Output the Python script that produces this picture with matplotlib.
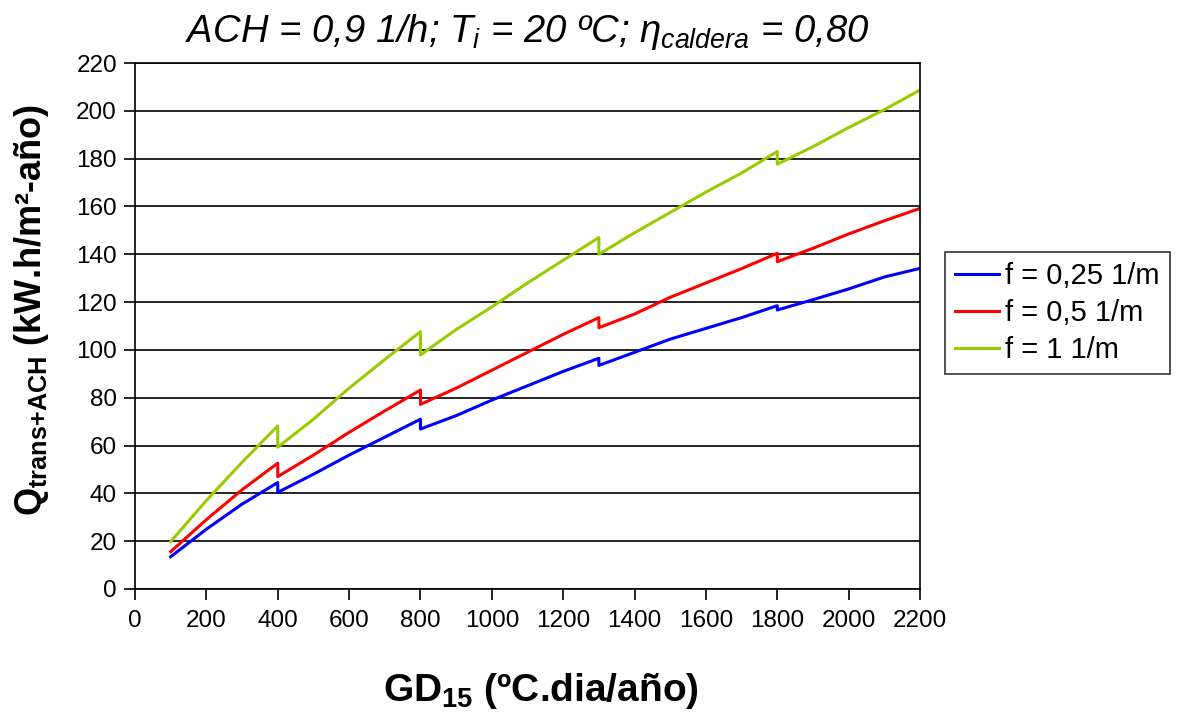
import numpy as np
import matplotlib.pyplot as plt

plt.rcParams['font.family'] = ['Liberation Sans', 'DejaVu Sans']
plt.rcParams['mathtext.fontset'] = 'custom'
plt.rcParams['mathtext.rm'] = 'Liberation Sans'
plt.rcParams['mathtext.it'] = 'Liberation Sans:italic'
plt.rcParams['mathtext.bf'] = 'Liberation Sans:bold'

# Data (jumps at 400, 800, 1300, 1800)
gd = [100, 200, 300, 400, 400, 500, 600, 700, 800, 800, 900, 1000, 1100, 1200,
      1300, 1300, 1400, 1500, 1600, 1700, 1800, 1800, 1900, 2000, 2100, 2200]
q_025 = [13.5, 25, 35.5, 44.5, 40.4, 48, 56, 63.5, 71, 66.9, 72.5, 79, 85, 91,
         96.5, 93.5, 99, 104.5, 109, 113.5, 118.5, 116.7, 121, 125.5, 130.5, 134.1]
q_05 = [15.6, 29, 41.5, 52.6, 47, 56, 65.5, 74.5, 83.2, 77.2, 84, 91.5, 99, 106.5,
        113.5, 109.3, 115, 122, 128, 134, 140.4, 136.9, 142.5, 148.5, 154, 159.2]
q_1 = [19.8, 37, 53, 68.2, 59.3, 71, 84, 96, 107.6, 97.9, 108.5, 118, 128, 137.5,
       147, 140, 149, 157.5, 166, 174, 183, 177.7, 185, 193, 200.5, 208.7]
labels = ['f = 0,25 1/m', 'f = 0,5 1/m', 'f = 1 1/m']

fig = plt.figure(figsize=(11.78, 7.16), dpi=100)
ax = fig.add_axes([0.1146, 0.1774, 0.6664, 0.7346])

ax.plot(gd, q_025, color='#0000FF', lw=2.2, label=labels[0])
ax.plot(gd, q_05, color='#FF0000', lw=2.2, label=labels[1])
ax.plot(gd, q_1, color='#99CC00', lw=2.2, label=labels[2])

ax.set_xlim(0, 2200)
ax.set_ylim(0, 220)
ax.set_xticks(np.arange(0, 2201, 200))
ax.set_yticks(np.arange(0, 221, 20))
ax.yaxis.grid(True, color='black', lw=1.2)
ax.set_axisbelow(True)
ax.tick_params(direction='out', length=8, width=1.2, labelsize=17.5)
ax.tick_params(axis='x', pad=7)
ax.tick_params(axis='y', pad=5)
for s in ax.spines.values():
    s.set_linewidth(1.2)

ax.set_title(r'ACH = 0,9 1/h; $T_i$ = 20 ºC; $\eta_{caldera}$ = 0,80',
             fontsize=27.5, style='italic', pad=15)
ax.set_xlabel(r'GD$_\mathbf{15}$ (ºC.dia/año)', fontsize=28, fontweight='bold')
ax.xaxis.set_label_coords(0.517, -0.155)
ax.set_ylabel(r'$\mathbf{Q_{trans{+}ACH}}$ (kW.h/m²-año)', fontsize=26, fontweight='bold')
ax.yaxis.set_label_coords(-0.107, 0.53)

leg = ax.legend(loc='upper left', bbox_to_anchor=(0.802, 0.648), bbox_transform=fig.transFigure,
                borderaxespad=0, fontsize=21, frameon=True, fancybox=False, handlelength=1.5,
                handletextpad=0.22, labelspacing=0.3, borderpad=0.35)
leg.get_frame().set_edgecolor('black')
leg.get_frame().set_linewidth(1.2)

fig.savefig('out.png', dpi=100)
